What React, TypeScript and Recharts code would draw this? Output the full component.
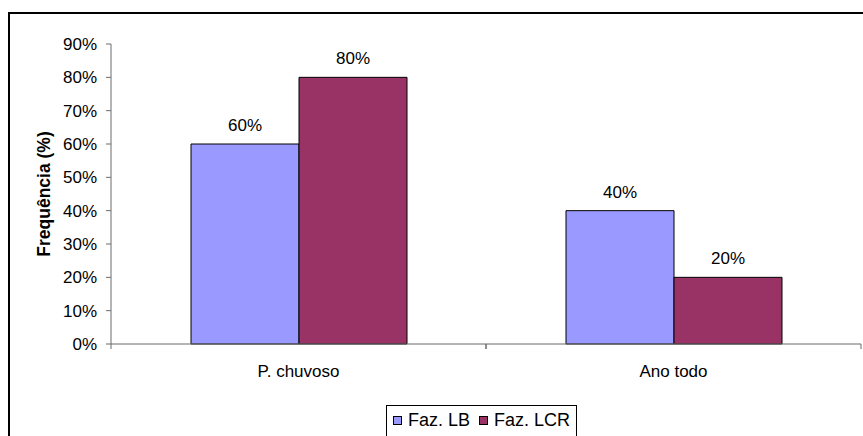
import React from "react";
import {
  BarChart,
  Bar,
  XAxis,
  YAxis,
  LabelList,
  Legend,
} from "recharts";

const categories = ["P. chuvoso", "Ano todo"];
const fazLB = [60, 40];
const fazLCR = [80, 20];
const yTicks = [0, 10, 20, 30, 40, 50, 60, 70, 80, 90];

const data = categories.map((name, i) => ({
  name,
  lb: fazLB[i],
  lcr: fazLCR[i],
}));

const FONT = '"Liberation Sans", Arial, sans-serif';
const AXIS_COLOR = "#6b6b6b";
const X_TICK_SIZE = 5;
const X_TICK_MARGIN = 16;

const pct = (v: number) => `${v}%`;

// category labels centred, tick marks on the category boundaries (Excel style)
function CategoryTick(props: any) {
  const { x, y, payload } = props;
  const half = payload?.offset ?? 0;
  const axisY = y - X_TICK_SIZE - X_TICK_MARGIN;
  return (
    <g>
      <line x1={x - half} y1={axisY} x2={x - half} y2={axisY + 5} stroke={AXIS_COLOR} />
      <line x1={x + half} y1={axisY} x2={x + half} y2={axisY + 5} stroke={AXIS_COLOR} />
      <text
        x={x}
        y={y}
        dy="0.71em"
        textAnchor="middle"
        fill="#000"
        fontSize={17}
        fontFamily={FONT}
      >
        {payload.value}
      </text>
    </g>
  );
}

function LegendBox(props: any) {
  const { payload = [] } = props;
  return (
    <div
      style={{
        display: "inline-flex",
        alignItems: "center",
        border: "1px solid #000",
        padding: "4px 6px 8px 6px",
        background: "#fff",
        fontFamily: FONT,
        fontSize: 18,
        color: "#000",
        lineHeight: "20px",
      }}
    >
      {payload.map((entry: any, i: number) => (
        <span
          key={entry.value}
          style={{ display: "inline-flex", alignItems: "center", marginLeft: i ? 9 : 0 }}
        >
          <span
            style={{
              display: "inline-block",
              width: 7,
              height: 7,
              border: "1px solid #000",
              background: entry.color,
              marginRight: 6,
            }}
          />
          {entry.value}
        </span>
      ))}
    </div>
  );
}

export default function App() {
  return (
    <div
      style={{
        position: "absolute",
        left: 0,
        top: 0,
        width: 863,
        height: 436,
        overflow: "hidden",
        background: "#fff",
      }}
    >
      <div
        style={{
          position: "absolute",
          left: 8,
          top: 12,
          width: 900,
          height: 500,
          border: "2px solid #000",
        }}
      />
      <div style={{ position: "absolute", left: 0, top: 0 }}>
        <BarChart
          width={863}
          height={436}
          data={data}
          margin={{ top: 44, right: 2, bottom: 0, left: 0 }}
          barCategoryGap={80}
          barGap={0}
        >
          <XAxis
            dataKey="name"
            height={92}
            axisLine={{ stroke: AXIS_COLOR }}
            tickLine={false}
            tickSize={X_TICK_SIZE}
            tickMargin={X_TICK_MARGIN}
            tick={<CategoryTick />}
            interval={0}
          />
          <YAxis
            width={111}
            domain={[0, 90]}
            ticks={yTicks}
            interval={0}
            tickFormatter={pct}
            axisLine={{ stroke: AXIS_COLOR }}
            tickLine={{ stroke: AXIS_COLOR }}
            tickSize={5}
            tickMargin={9}
            tick={{ fill: "#000", fontSize: 17, fontFamily: FONT }}
            label={{
              value: "Frequência (%)",
              angle: -90,
              position: "center",
              dx: -12,
              style: {
                fontFamily: FONT,
                fontSize: 17.5,
                fontWeight: 700,
                fill: "#000",
              },
            }}
          />
          <Legend
            layout="horizontal"
            verticalAlign="middle"
            align="center"
            content={<LegendBox />}
            wrapperStyle={{ left: 386, top: 405, width: "auto" }}
          />
          <Bar
            dataKey="lb"
            name="Faz. LB"
            fill="#9999ff"
            stroke="#000"
            strokeWidth={1}
            isAnimationActive={false}
          >
            <LabelList
              dataKey="lb"
              position="top"
              offset={13}
              formatter={(v: any) => pct(v)}
              style={{ fill: "#000", fontSize: 17, fontFamily: FONT }}
            />
          </Bar>
          <Bar
            dataKey="lcr"
            name="Faz. LCR"
            fill="#993366"
            stroke="#000"
            strokeWidth={1}
            isAnimationActive={false}
          >
            <LabelList
              dataKey="lcr"
              position="top"
              offset={13}
              formatter={(v: any) => pct(v)}
              style={{ fill: "#000", fontSize: 17, fontFamily: FONT }}
            />
          </Bar>
        </BarChart>
      </div>
    </div>
  );
}
